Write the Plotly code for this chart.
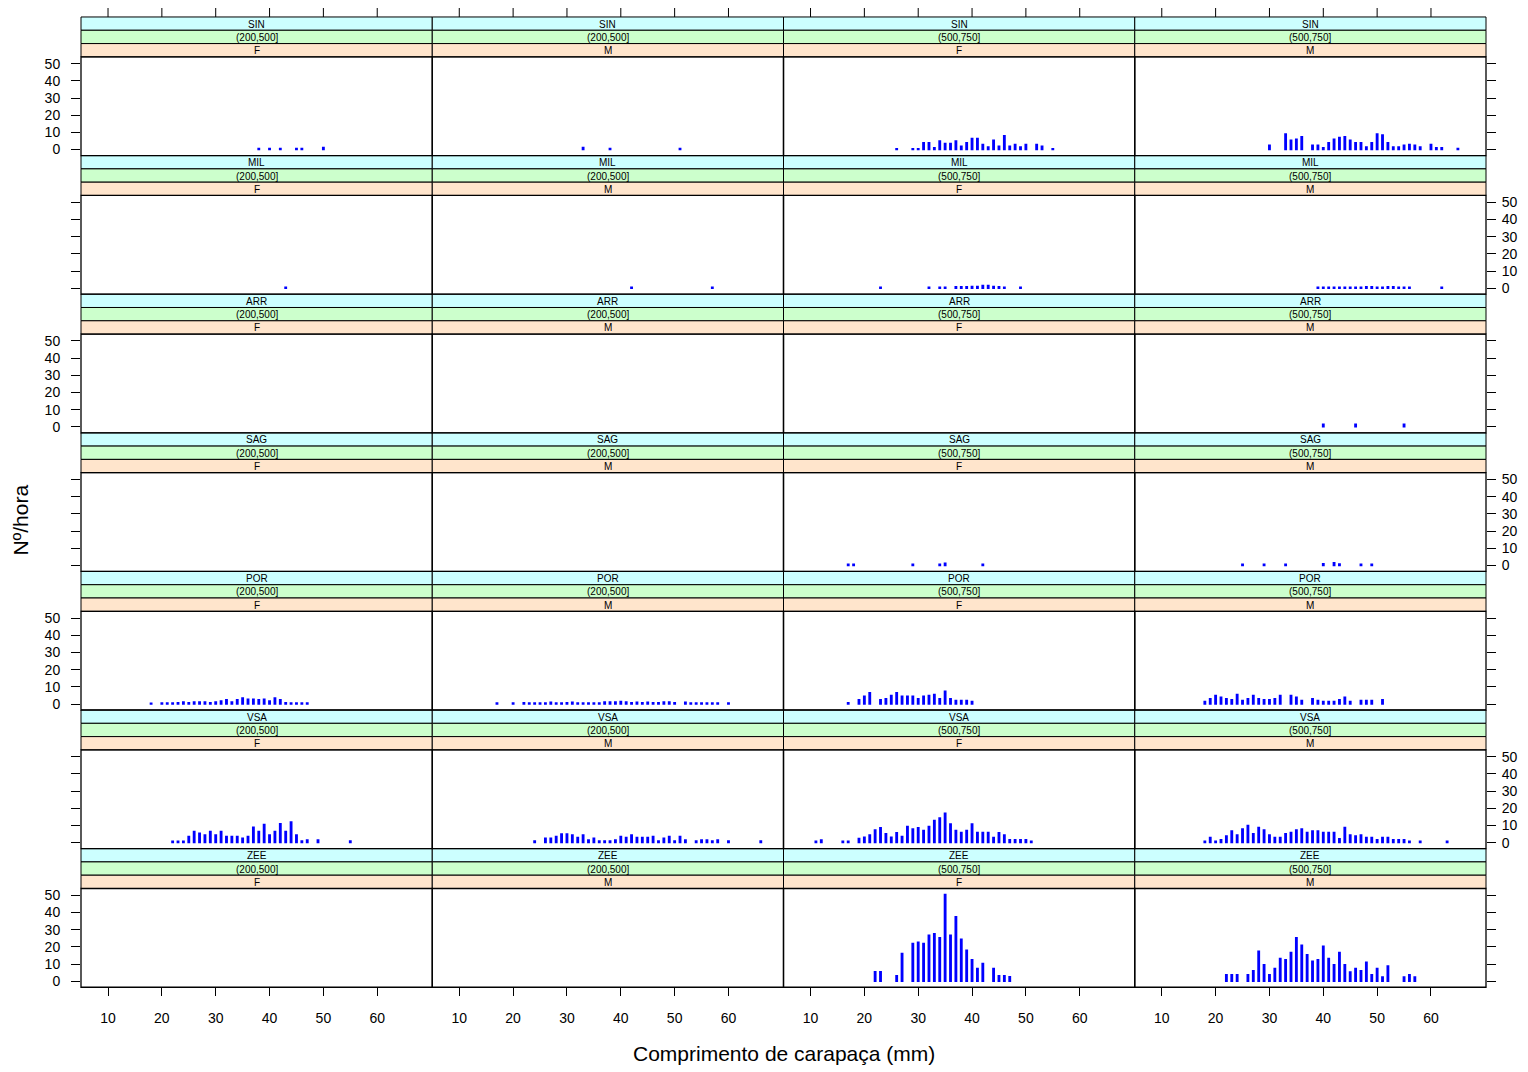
import plotly.graph_objects as go

# page body adds an 8px margin; figure sized to fit the 1528x1072 window
OFF = 8
W, H = 1528 - OFF, 1072 - OFF

regions = ["SIN", "MIL", "ARR", "SAG", "POR", "VSA", "ZEE"]
strata = ["(200,500]", "(200,500]", "(500,750]", "(500,750]"]
sexes = ["F", "M", "F", "M"]
x_ticks = [10, 20, 30, 40, 50, 60]
y_ticks = [0, 10, 20, 30, 40, 50]

# ---- data: carapace length (mm) and N/hour per panel ----
sin_200_f_x = [38, 40, 42, 45, 46, 50]
sin_200_f_y = [0.6, 0.6, 0.6, 0.6, 0.6, 1.2]
sin_200_m_x = [33, 38, 51]
sin_200_m_y = [1.2, 0.6, 0.6]
sin_500_f_x = [26, 29, 30, 31, 32, 33, 34, 35, 36, 37, 38, 39, 40, 41, 42, 43, 44, 45, 46, 47, 48, 49, 50, 52, 53, 55]
sin_500_f_y = [0.5, 0.5, 0.5, 4, 4, 1, 5, 3.5, 3.5, 5, 2, 4, 6.5, 6.5, 3, 1.5, 5.5, 2, 8, 2, 3, 1.5, 3, 3, 2, 0.5]
sin_500_m_x = [30, 33, 34, 35, 36, 38, 39, 40, 41, 42, 43, 44, 45, 46, 47, 48, 49, 50, 51, 52, 53, 54, 55, 56, 57, 58, 60, 61, 62, 65]
sin_500_m_y = [2.5, 9, 5.5, 6, 7.5, 2.5, 2.5, 1, 4, 6, 7, 7.5, 5.5, 4, 4, 1.5, 4, 9, 8.5, 4, 1.5, 1.5, 2.5, 3, 2.5, 1.5, 3, 1, 1, 0.6]

mil_200_f_x = [43]
mil_200_f_y = [0.6]
mil_200_m_x = [42, 57]
mil_200_m_y = [0.6, 0.6]
mil_500_f_x = [23, 32, 34, 35, 37, 38, 39, 40, 41, 42, 43, 44, 45, 46, 49]
mil_500_f_y = [0.6, 0.6, 0.6, 0.6, 0.8, 0.8, 0.8, 1, 1, 1.5, 1.5, 1, 0.8, 0.6, 0.6]
mil_500_m_x = [39, 40, 41, 42, 43, 44, 45, 46, 47, 48, 49, 50, 51, 52, 53, 54, 55, 56, 62]
mil_500_m_y = [0.6, 0.6, 0.6, 0.6, 0.6, 0.6, 0.6, 0.6, 0.6, 0.8, 0.8, 0.6, 0.6, 0.8, 0.8, 0.6, 0.6, 0.6, 0.6]

arr_500_m_x = [40, 46, 55]
arr_500_m_y = [1.5, 1.5, 1.5]

sag_500_f_x = [17, 18, 29, 34, 35, 42]
sag_500_f_y = [0.6, 0.6, 0.6, 0.6, 1.2, 0.6]
sag_500_m_x = [25, 29, 33, 40, 42, 43, 47, 49]
sag_500_m_y = [0.6, 0.6, 0.6, 1, 1.5, 0.8, 0.6, 0.6]

por_200_f_x = [18, 20, 21, 22, 23, 24, 25, 26, 27, 28, 29, 30, 31, 32, 33, 34, 35, 36, 37, 38, 39, 40, 41, 42, 43, 44, 45, 46, 47]
por_200_f_y = [0.5, 0.6, 0.6, 0.6, 0.8, 1.2, 0.8, 1.2, 1.2, 1.2, 0.8, 1.2, 1.8, 2.5, 1.2, 2.5, 3.5, 2.8, 2.8, 2.5, 2.8, 1.8, 3.5, 2.5, 0.8, 0.6, 0.6, 0.6, 0.6]
por_200_m_x = [17, 20, 22, 23, 24, 25, 26, 27, 28, 29, 30, 31, 32, 33, 34, 35, 36, 37, 38, 39, 40, 41, 42, 43, 44, 45, 46, 47, 48, 49, 50, 52, 53, 54, 55, 56, 57, 58, 60]
por_200_m_y = [0.6, 0.6, 0.8, 0.6, 0.6, 0.6, 0.6, 1.0, 0.6, 0.6, 0.8, 1.0, 0.6, 0.6, 0.6, 0.6, 0.6, 1.2, 1.2, 1.2, 1.5, 1.2, 0.8, 1.0, 0.8, 1.0, 0.8, 0.8, 1.2, 1.2, 0.8, 1.0, 0.6, 0.6, 0.6, 0.6, 0.6, 0.6, 0.6]
por_500_f_x = [17, 19, 20, 21, 23, 24, 25, 26, 27, 28, 29, 30, 31, 32, 33, 34, 35, 36, 37, 38, 39, 40]
por_500_f_y = [0.8, 2.5, 4.5, 6.5, 2.5, 3, 5, 6.5, 4.5, 4.5, 4.5, 3, 4.5, 5, 5.5, 3, 7.5, 3, 2, 2, 2, 1.5]
por_500_m_x = [18, 19, 20, 21, 22, 23, 24, 25, 26, 27, 28, 29, 30, 31, 32, 34, 35, 36, 38, 39, 40, 41, 42, 43, 44, 45, 47, 48, 49, 51]
por_500_m_y = [1.5, 3, 5, 4, 3, 2.5, 5.5, 2, 3, 5, 3, 2.5, 2.5, 3, 5, 5, 4, 2, 3, 2, 1.5, 1.5, 1.5, 2.5, 4, 1.5, 2, 2, 2, 2.5]

vsa_200_f_x = [22, 23, 24, 25, 26, 27, 28, 29, 30, 31, 32, 33, 34, 35, 36, 37, 38, 39, 40, 41, 42, 43, 44, 45, 46, 47, 49, 55]
vsa_200_f_y = [0.8, 0.8, 0.8, 3.5, 6.5, 5.5, 4.5, 6.5, 4.5, 6.5, 3.5, 3.5, 3.5, 2.5, 3.5, 9, 6.5, 10.5, 4.5, 6.5, 11, 6.5, 12, 4.5, 1, 1.5, 1.5, 1]
vsa_200_m_x = [24, 26, 27, 28, 29, 30, 31, 32, 33, 34, 35, 36, 37, 38, 39, 40, 41, 42, 43, 44, 45, 46, 47, 48, 49, 50, 51, 52, 54, 55, 56, 57, 58, 60, 66]
vsa_200_m_y = [1, 2.5, 2.5, 3.5, 5, 5, 4.5, 3, 4.5, 1.5, 2.5, 1, 1, 1, 1.5, 3.5, 3, 4.5, 3, 3, 3, 3.5, 1, 2.5, 3.5, 1, 3.5, 1.5, 1, 1.5, 1.5, 1, 1.5, 1, 1]
vsa_500_f_x = [11, 12, 16, 17, 19, 20, 21, 22, 23, 24, 25, 26, 27, 28, 29, 30, 31, 32, 33, 34, 35, 36, 37, 38, 39, 40, 41, 42, 43, 44, 45, 46, 47, 48, 49, 50, 51]
vsa_500_f_y = [0.8, 1.5, 0.8, 0.8, 2.4, 3.2, 4.5, 7.3, 8.6, 5.1, 3.2, 5.7, 3.6, 9.4, 8, 8.6, 7.1, 9.4, 12.9, 14.4, 17.1, 10.9, 7.1, 5.9, 7.1, 10.9, 5.9, 5.9, 5.9, 3, 5.7, 4.5, 1.6, 1.6, 1.6, 1.6, 0.8]
vsa_500_m_x = [18, 19, 20, 21, 22, 23, 24, 25, 26, 27, 28, 29, 30, 31, 32, 33, 34, 35, 36, 37, 38, 39, 40, 41, 42, 43, 44, 45, 46, 47, 48, 49, 50, 51, 52, 53, 54, 55, 56, 58, 63]
vsa_500_m_y = [0.8, 3, 0.8, 1.6, 3.8, 6.7, 4.5, 8, 10, 5.1, 8.8, 7.4, 4.5, 3, 3, 5.1, 5.9, 7.4, 8, 5.9, 6.7, 6.7, 5.9, 5.9, 5.9, 2.2, 8.8, 4.5, 3.8, 4.5, 3, 3, 1.6, 3, 3, 1.6, 1.6, 1.6, 0.8, 0.8, 0.8]

zee_500_f_x = [22, 23, 26, 27, 29, 30, 31, 32, 33, 34, 35, 36, 37, 38, 39, 40, 41, 42, 44, 45, 46, 47]
zee_500_f_y = [5.5, 5.5, 3.2, 16.2, 22, 22.7, 22, 26.8, 27.6, 25.3, 50.5, 26.8, 37.5, 24.5, 18.1, 12.5, 7.4, 10.3, 7.4, 3.2, 3.2, 2.6]
zee_500_m_x = [22, 23, 24, 26, 27, 28, 29, 30, 31, 32, 33, 34, 35, 36, 37, 38, 39, 40, 41, 42, 43, 44, 45, 46, 47, 48, 49, 50, 51, 52, 55, 56, 57]
zee_500_m_y = [3.8, 3.8, 3.8, 3.8, 6.1, 17.5, 9.6, 3.8, 7.4, 13.3, 12.5, 16.7, 25.3, 21, 15.4, 11.7, 12.5, 20.4, 13.3, 9.6, 16.7, 9.6, 5.3, 7.4, 6.1, 11.1, 3.8, 7.4, 2.4, 8.8, 2.4, 3.8, 2.4]

panel_data = {
    (0, 0): (sin_200_f_x, sin_200_f_y), (0, 1): (sin_200_m_x, sin_200_m_y),
    (0, 2): (sin_500_f_x, sin_500_f_y), (0, 3): (sin_500_m_x, sin_500_m_y),
    (1, 0): (mil_200_f_x, mil_200_f_y), (1, 1): (mil_200_m_x, mil_200_m_y),
    (1, 2): (mil_500_f_x, mil_500_f_y), (1, 3): (mil_500_m_x, mil_500_m_y),
    (2, 3): (arr_500_m_x, arr_500_m_y),
    (3, 2): (sag_500_f_x, sag_500_f_y), (3, 3): (sag_500_m_x, sag_500_m_y),
    (4, 0): (por_200_f_x, por_200_f_y), (4, 1): (por_200_m_x, por_200_m_y),
    (4, 2): (por_500_f_x, por_500_f_y), (4, 3): (por_500_m_x, por_500_m_y),
    (5, 0): (vsa_200_f_x, vsa_200_f_y), (5, 1): (vsa_200_m_x, vsa_200_m_y),
    (5, 2): (vsa_500_f_x, vsa_500_f_y), (5, 3): (vsa_500_m_x, vsa_500_m_y),
    (6, 2): (zee_500_f_x, zee_500_f_y), (6, 3): (zee_500_m_x, zee_500_m_y),
}

# ---- layout geometry (window pixels) ----
LEFT, RIGHT = 81, 1486
COLW = (RIGHT - LEFT) / 4
TOP0 = 16
ROWH = 139
STRIPH = 40 / 3
XR = [4.98, 70.22]
YR = [-3.5, 54.0]
FONT = "Liberation Sans, Arial, sans-serif"
strip_cols = ["#CCFFFF", "#CCFFCC", "#FFE5CC"]


def px(x):
    return (x - OFF) / W


def py(y):
    return 1 - (y - OFF) / H


fig = go.Figure()
layout = dict(
    width=W, height=H, margin=dict(l=0, r=0, t=0, b=0),
    paper_bgcolor="white", plot_bgcolor="white", showlegend=False,
    font=dict(family=FONT, size=14, color="black"),
)
shapes = []
annotations = []

for r in range(7):
    rtop = TOP0 + r * ROWH
    ptop = rtop + 40
    pbot = rtop + ROWH
    for c in range(4):
        k = r * 4 + c + 1
        x0 = LEFT + c * COLW
        x1 = x0 + COLW
        xa = dict(domain=[px(x0), px(x1)], range=XR, anchor=f"y{k}",
                  showgrid=False, zeroline=False, showline=False,
                  tickvals=x_ticks, fixedrange=True)
        if r == 6:
            xa.update(ticks="outside", ticklen=8, tickcolor="black",
                      showticklabels=True, ticklabelstandoff=10,
                      tickfont=dict(size=14))
        else:
            xa.update(ticks="", showticklabels=False)
        ya = dict(domain=[py(pbot), py(ptop)], range=YR, anchor=f"x{k}",
                  showgrid=False, zeroline=False, showline=False,
                  tickvals=y_ticks, fixedrange=True)
        if c == 0:
            ya.update(side="left", ticks="outside", ticklen=9, tickcolor="black",
                      showticklabels=(r % 2 == 0), ticklabelstandoff=8)
        elif c == 3:
            ya.update(side="right", ticks="outside", ticklen=9, tickcolor="black",
                      showticklabels=(r % 2 == 1), ticklabelstandoff=3)
        else:
            ya.update(ticks="", showticklabels=False)
        layout[f"xaxis{k}"] = xa
        layout[f"yaxis{k}"] = ya

        xs, ys = panel_data.get((r, c), ([], []))
        fig.add_trace(go.Bar(
            x=xs, y=ys, width=0.25, xaxis=f"x{k}", yaxis=f"y{k}",
            marker=dict(color="#0000FF", line=dict(color="#0000FF", width=1.5)),
            hoverinfo="x+y",
        ))

        # strips
        labels = [regions[r], strata[c], sexes[c]]
        for s in range(3):
            sy0 = rtop + s * STRIPH
            sy1 = sy0 + STRIPH
            shapes.append(dict(type="rect", xref="paper", yref="paper",
                               x0=px(x0), x1=px(x1), y0=py(sy1), y1=py(sy0),
                               fillcolor=strip_cols[s],
                               line=dict(color="black", width=1), layer="below"))
            annotations.append(dict(text=labels[s], xref="paper", yref="paper",
                                    x=px((x0 + x1) / 2), y=py((sy0 + sy1) / 2 + 0.5),
                                    showarrow=False, xanchor="center", yanchor="middle",
                                    font=dict(size=10, color="black", family=FONT)))
        # panel border
        shapes.append(dict(type="rect", xref="paper", yref="paper",
                           x0=px(x0), x1=px(x1), y0=py(pbot), y1=py(ptop),
                           line=dict(color="black", width=1.3), fillcolor="rgba(0,0,0,0)",
                           layer="above"))
        # top axis ticks above strips of first row
        if r == 0:
            for t in x_ticks:
                shapes.append(dict(type="line", xref=f"x{k}", yref="paper",
                                   x0=t, x1=t, y0=py(TOP0), y1=py(TOP0 - 10),
                                   line=dict(color="black", width=1)))

annotations.append(dict(text="Comprimento de carapaça (mm)", xref="paper", yref="paper",
                        x=px(784), y=py(1055), showarrow=False,
                        xanchor="center", yanchor="middle",
                        font=dict(size=21, color="black", family=FONT)))
annotations.append(dict(text="Nº/hora", xref="paper", yref="paper",
                        x=px(21), y=py(521), showarrow=False, textangle=-90,
                        xanchor="center", yanchor="middle",
                        font=dict(size=21, color="black", family=FONT)))

layout["shapes"] = shapes
layout["annotations"] = annotations
fig.update_layout(**layout)
fig.write_html("out.html")
